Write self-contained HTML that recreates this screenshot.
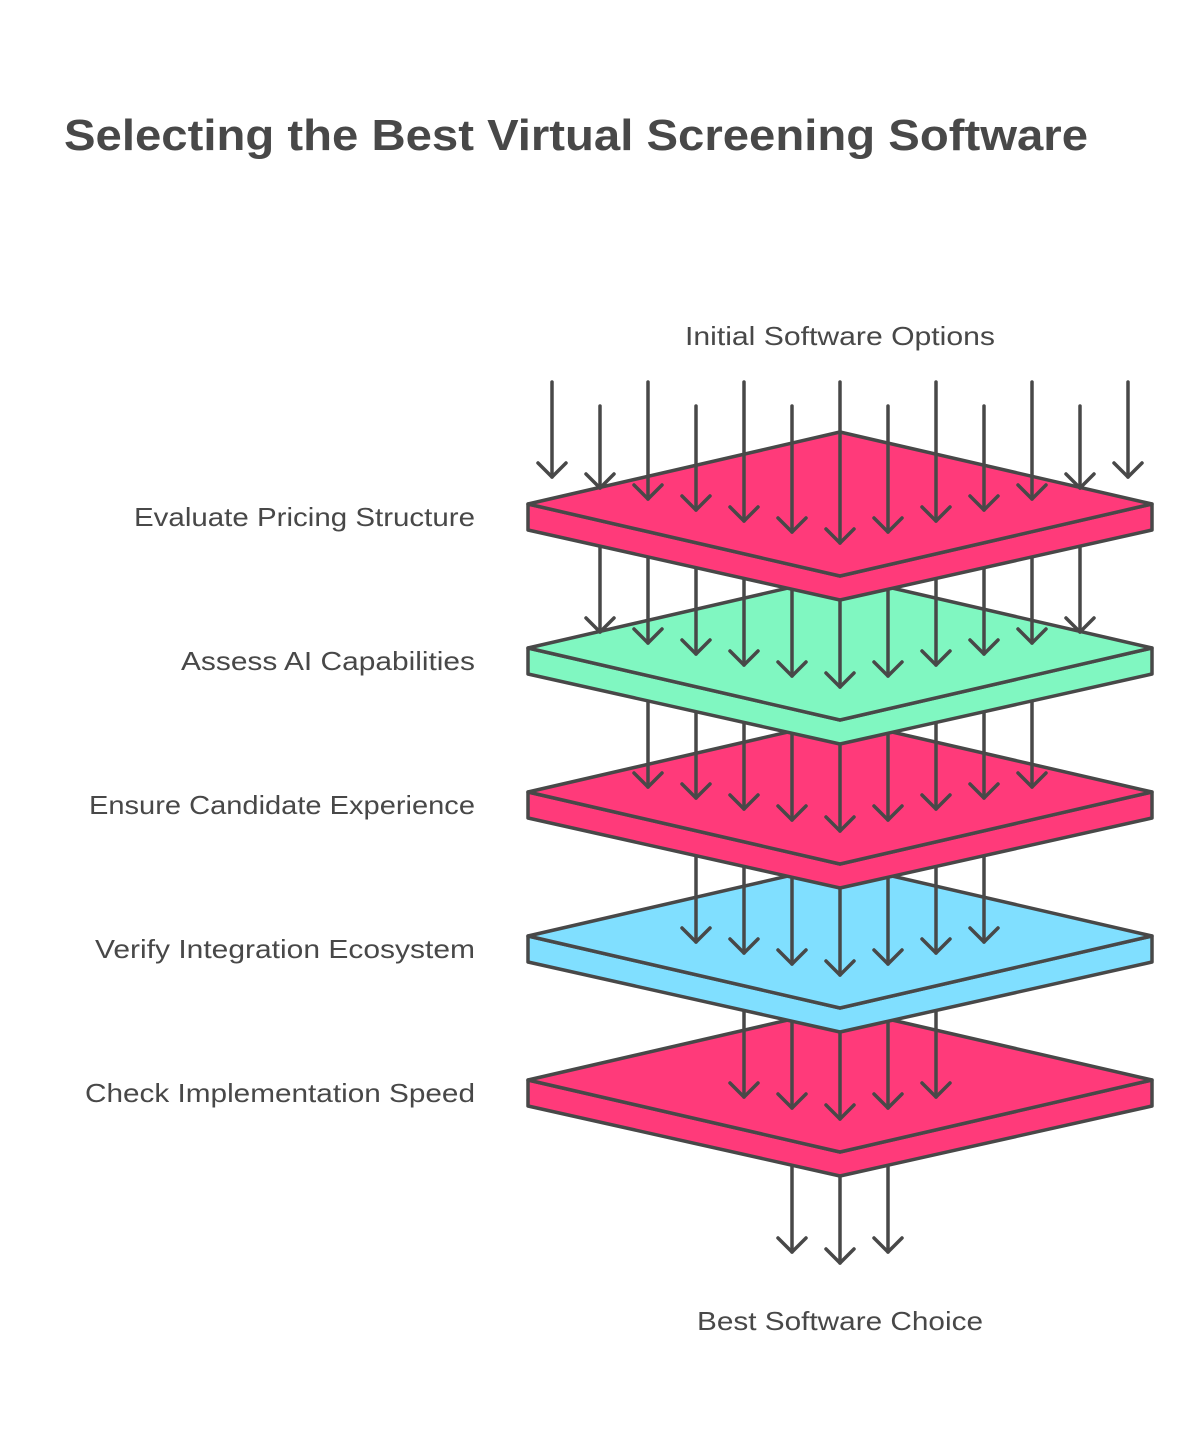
<!DOCTYPE html>
<html><head><meta charset="utf-8"><style>
html,body{margin:0;padding:0;background:#fff;}
body{width:1200px;height:1440px;overflow:hidden;}
text{font-family:"Liberation Sans",sans-serif;fill:#484848;}
</style></head><body>
<svg width="1200" height="1440" viewBox="0 0 1200 1440" xmlns="http://www.w3.org/2000/svg">
<text x="64" y="150" font-size="44" font-weight="bold" textLength="1024" lengthAdjust="spacingAndGlyphs">Selecting the Best Virtual Screening Software</text>
<text x="685" y="345" font-size="26" textLength="310" lengthAdjust="spacingAndGlyphs">Initial Software Options</text>
<text x="697" y="1330" font-size="26" textLength="286" lengthAdjust="spacingAndGlyphs">Best Software Choice</text>
<g font-size="26" lengthAdjust="spacingAndGlyphs">
<text x="134" y="526" textLength="341" lengthAdjust="spacingAndGlyphs">Evaluate Pricing Structure</text>
<text x="181" y="670" textLength="294" lengthAdjust="spacingAndGlyphs">Assess AI Capabilities</text>
<text x="89" y="814" textLength="386" lengthAdjust="spacingAndGlyphs">Ensure Candidate Experience</text>
<text x="95" y="958" textLength="380" lengthAdjust="spacingAndGlyphs">Verify Integration Ecosystem</text>
<text x="85" y="1102" textLength="390" lengthAdjust="spacingAndGlyphs">Check Implementation Speed</text>
</g>
<g id="g" stroke="#484848" stroke-width="3.5" stroke-linejoin="round" stroke-linecap="round" fill="none"></g>
</svg>
<script>
var g=document.getElementById('g');
var ns='http://www.w3.org/2000/svg';
function el(t,a){var e=document.createElementNS(ns,t);for(var k in a)e.setAttribute(k,a[k]);g.appendChild(e);}
function tip(x,k){return 477+(288-Math.abs(x-840))*66/288+144*k;}
function arrow(x,y1,y2){el('line',{x1:x,y1:y1,x2:x,y2:y2});el('polyline',{points:(x-14)+','+(y2-14)+' '+x+','+y2+' '+(x+14)+','+(y2-14)});}
function layer(k,c){var L=504+144*k;
el('polygon',{points:'528,'+L+' 840,'+(L+72)+' 1152,'+L+' 1152,'+(L+26)+' 840,'+(L+96)+' 528,'+(L+26),fill:c});
el('polygon',{points:'528,'+L+' 840,'+(L-72)+' 1152,'+L+' 840,'+(L+72),fill:c});}
var cols=['#FF3A7A','#80F7C1','#FF3A7A','#80DFFF','#FF3A7A'];
[792,840,888].forEach(function(x){arrow(x,1150,tip(x,5));});
for(var k=4;k>=0;k--){
 layer(k,cols[k]);
 var lo=552+48*k, hi=1128-48*k;
 for(var x=lo;x<=hi;x+=48){
  var y1 = k==0 ? ((x-552)/48%2==0?382:406) : 504+144*(k-1)+30;
  arrow(x,y1,tip(x,k));
 }
}
</script>
</body></html>
